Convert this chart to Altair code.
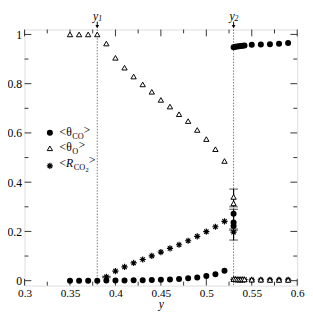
import altair as alt
import pandas as pd

# ---------------- data ----------------
x_main = [0.35, 0.36, 0.37, 0.38, 0.39, 0.40, 0.41, 0.42, 0.43, 0.44,
          0.45, 0.46, 0.47, 0.48, 0.49, 0.50, 0.51, 0.52]
theta_co_main = [0.0, 0.0, 0.0, 0.0, 0.0005, 0.001, 0.001, 0.0015, 0.002, 0.003,
                 0.004, 0.005, 0.007, 0.010, 0.013, 0.019, 0.026, 0.040]
theta_o_main = [1.0, 1.0, 1.0, 1.0, 0.963, 0.905, 0.865, 0.829, 0.797, 0.767,
                0.734, 0.707, 0.676, 0.648, 0.612, 0.575, 0.534, 0.486]
x_r = [0.39, 0.40, 0.41, 0.42, 0.43, 0.44, 0.45, 0.46, 0.47, 0.48, 0.49, 0.50, 0.51, 0.52]
r_main = [0.016, 0.039, 0.056, 0.072, 0.086, 0.101, 0.116, 0.131, 0.146, 0.162,
          0.180, 0.199, 0.219, 0.241]

# transition point y2 (averages with large fluctuations)
x_tr_co = [0.53, 0.53, 0.53]
theta_co_tr = [0.272, 0.236, 0.222]
x_tr_o = [0.53, 0.53]
theta_o_tr = [0.340, 0.314]
x_tr_r = [0.53]
r_tr = [0.197]
err_x = [0.53, 0.53, 0.53, 0.39]
err_lo = [0.300, 0.210, 0.165, 0.012]
err_hi = [0.372, 0.290, 0.205, 0.018]

# poisoned (CO) phase, y > y2
x_hi = [0.530, 0.532, 0.534, 0.536, 0.538, 0.540, 0.542, 0.55, 0.56, 0.57, 0.58, 0.59]
theta_co_hi = [0.948, 0.950, 0.951, 0.952, 0.953, 0.954, 0.955, 0.958, 0.959, 0.960, 0.962, 0.965]
theta_o_hi = [0.006, 0.006, 0.005, 0.005, 0.005, 0.005, 0.005, 0.004, 0.004, 0.003, 0.003, 0.003]
r_hi = [0.005, 0.005, 0.004, 0.004, 0.004, 0.004, 0.004, 0.003, 0.003, 0.003, 0.003, 0.003]

y_transitions = [0.38, 0.53]
transition_labels = ["1", "2"]

x_major = [0.3, 0.35, 0.4, 0.45, 0.5, 0.55, 0.6]
x_minor = [0.325, 0.375, 0.425, 0.475, 0.525, 0.575]
y_major = [0, 0.2, 0.4, 0.6, 0.8, 1.0]
y_minor = [0.1, 0.3, 0.5, 0.7, 0.9]

# ---------------- layout ----------------
W, H = 280, 263
FONT = "Liberation Serif"
xs = alt.Scale(domain=[0.3, 0.6], nice=False, zero=False)
ys = alt.Scale(domain=[-0.02, 1.02], nice=False, zero=False)

xaxis = alt.Axis(values=x_major, format="~g", ticks=False, domain=False, grid=False,
                 labelFont=FONT, labelFontSize=11.5, labelColor="black", labelPadding=2,
                 title="y", titleFont=FONT, titleFontStyle="italic", titleFontWeight="normal",
                 titleFontSize=12, titleColor="black", titlePadding=0, labelFlush=False)
yaxis = alt.Axis(values=y_major, format="~g", ticks=False, domain=False, grid=False,
                 labelFont=FONT, labelFontSize=12, labelColor="black", labelPadding=3,
                 title=None)


def X(f):
    return alt.X(f, type="quantitative", scale=xs, axis=xaxis)


def Y(f):
    return alt.Y(f, type="quantitative", scale=ys, axis=yaxis)


co = pd.DataFrame({"x": x_main + x_tr_co + x_hi, "v": theta_co_main + theta_co_tr + theta_co_hi})
ox = pd.DataFrame({"x": x_main + x_tr_o + x_hi, "v": theta_o_main + theta_o_tr + theta_o_hi})
rr = pd.DataFrame({"x": x_r + x_tr_r + x_hi, "v": r_main + r_tr + r_hi})
err = pd.DataFrame({"x": err_x, "lo": err_lo, "hi": err_hi})

ASTER = "M-1,0L1,0M0,-1L0,1M-0.7,-0.7L0.7,0.7M-0.7,0.7L0.7,-0.7"

# transition lines
vlines = alt.Chart(pd.DataFrame({"x": y_transitions})).mark_rule(
    color="#777", strokeDash=[1.5, 1.5], strokeWidth=1
).encode(x=X("x"), y=alt.value(0), y2=alt.value(H))

# ticks
def ticks(vals, axis, length):
    d = pd.DataFrame({"v": vals})
    if axis == "x":
        b = alt.Chart(d).mark_rule(color="#333", strokeWidth=1).encode(
            x=X("v"), y=alt.value(H), y2=alt.value(H - length))
        t = alt.Chart(d).mark_rule(color="#333", strokeWidth=1).encode(
            x=X("v"), y=alt.value(0), y2=alt.value(length))
    else:
        b = alt.Chart(d).mark_rule(color="#333", strokeWidth=1).encode(
            y=Y("v"), x=alt.value(0), x2=alt.value(length))
        t = alt.Chart(d).mark_rule(color="#333", strokeWidth=1).encode(
            y=Y("v"), x=alt.value(W), x2=alt.value(W - length))
    return [b, t]

tick_layers = (ticks(x_major, "x", 7) + ticks(x_minor, "x", 4)
               + ticks(y_major, "y", 7) + ticks(y_minor, "y", 4))

# error bars
ebar = alt.Chart(err).mark_rule(color="black", strokeWidth=1.2).encode(x=X("x"), y=Y("lo"), y2="hi")
cap_lo = alt.Chart(err).mark_tick(color="black", orient="horizontal", size=9, thickness=1).encode(x=X("x"), y=Y("lo"))
cap_hi = alt.Chart(err).mark_tick(color="black", orient="horizontal", size=9, thickness=1).encode(x=X("x"), y=Y("hi"))

# data points
pts_co = alt.Chart(co).mark_point(shape="circle", filled=True, color="black", size=38, opacity=1).encode(
    x=X("x"), y=Y("v"))
pts_o = alt.Chart(ox).mark_point(shape="triangle-up", filled=False, fill="white", fillOpacity=1,
                                 stroke="black", strokeWidth=1, size=30, opacity=1).encode(
    x=X("x"), y=Y("v"))
pts_r = alt.Chart(rr).mark_point(shape=ASTER, filled=False, stroke="black", strokeWidth=1.2,
                                 size=40, opacity=1).encode(x=X("x"), y=Y("v"))

# transition labels y1, y2 with arrows
tl = pd.DataFrame({"x": y_transitions, "lab": transition_labels})
arrow_line = alt.Chart(tl).mark_rule(color="black", strokeWidth=1).encode(
    x=X("x"), y=alt.value(-8), y2=alt.value(-2))
arrow_head = alt.Chart(tl).mark_point(shape="triangle-down", filled=True, color="black",
                                      size=14, opacity=1).encode(x=X("x"), y=alt.value(-3))
lab_y = alt.Chart(tl).mark_text(font=FONT, fontStyle="italic", fontSize=12, color="black",
                                align="right", baseline="middle", dx=1).encode(
    x=X("x"), y=alt.value(-14), text=alt.value("y"))
lab_sub = alt.Chart(tl).mark_text(font=FONT, fontStyle="italic", fontSize=8, color="black",
                                  align="left", baseline="middle", dx=1).encode(
    x=X("x"), y=alt.value(-11), text="lab:N")

# manual legend
leg_sym_x = 26
legend_syms = [
    alt.Chart(pd.DataFrame({"a": [0]})).mark_point(shape="circle", filled=True, color="black",
                                                 size=38, opacity=1).encode(
        x=alt.value(leg_sym_x), y=alt.value(106)),
    alt.Chart(pd.DataFrame({"a": [0]})).mark_point(shape="triangle-up", filled=False, fill="white",
                                                 fillOpacity=1, stroke="black", strokeWidth=1,
                                                 size=30, opacity=1).encode(
        x=alt.value(leg_sym_x), y=alt.value(122)),
    alt.Chart(pd.DataFrame({"a": [0]})).mark_point(shape=ASTER, filled=False, stroke="black",
                                                 strokeWidth=1.2, size=40, opacity=1).encode(
        x=alt.value(leg_sym_x), y=alt.value(140)),
]

leg_txt = pd.DataFrame({
    "t": ["<θ", "CO", ">", "<θ", "O", ">", "<", "CO", "2", ">"],
    "px": [36, 49, 60.5, 36, 49, 55.5, 36, 50.5, 62.5, 66],
    "py": [105, 109, 103, 121, 125, 119, 137, 141, 144, 134],
    "fs": [12, 8.5, 12, 12, 8.5, 12, 12, 8.5, 6.5, 12],
})
leg_text = alt.Chart(leg_txt).mark_text(font=FONT, color="black", align="left", baseline="middle").encode(
    x=alt.X("px:Q", scale=None), y=alt.Y("py:Q", scale=None), text="t:N",
    size=alt.Size("fs:Q", scale=None, legend=None))
leg_R = alt.Chart(pd.DataFrame({"t": ["R"]})).mark_text(
    font=FONT, fontStyle="italic", fontSize=12, color="black", align="left", baseline="middle").encode(
    x=alt.value(42.5), y=alt.value(137), text="t:N")

chart = alt.layer(
    vlines, *tick_layers, ebar, cap_lo, cap_hi, pts_r, pts_o, pts_co,
    arrow_line, arrow_head, lab_y, lab_sub, *legend_syms, leg_text, leg_R
).properties(
    width=W, height=H,
    autosize=alt.AutoSizeParams(type="none"),
    padding={"left": 17, "top": 18, "right": 8, "bottom": 22},
).configure_view(stroke="#222", strokeWidth=1.6).configure(background="white")

chart.save("out.html", embed_options={"renderer": "svg", "actions": False})
